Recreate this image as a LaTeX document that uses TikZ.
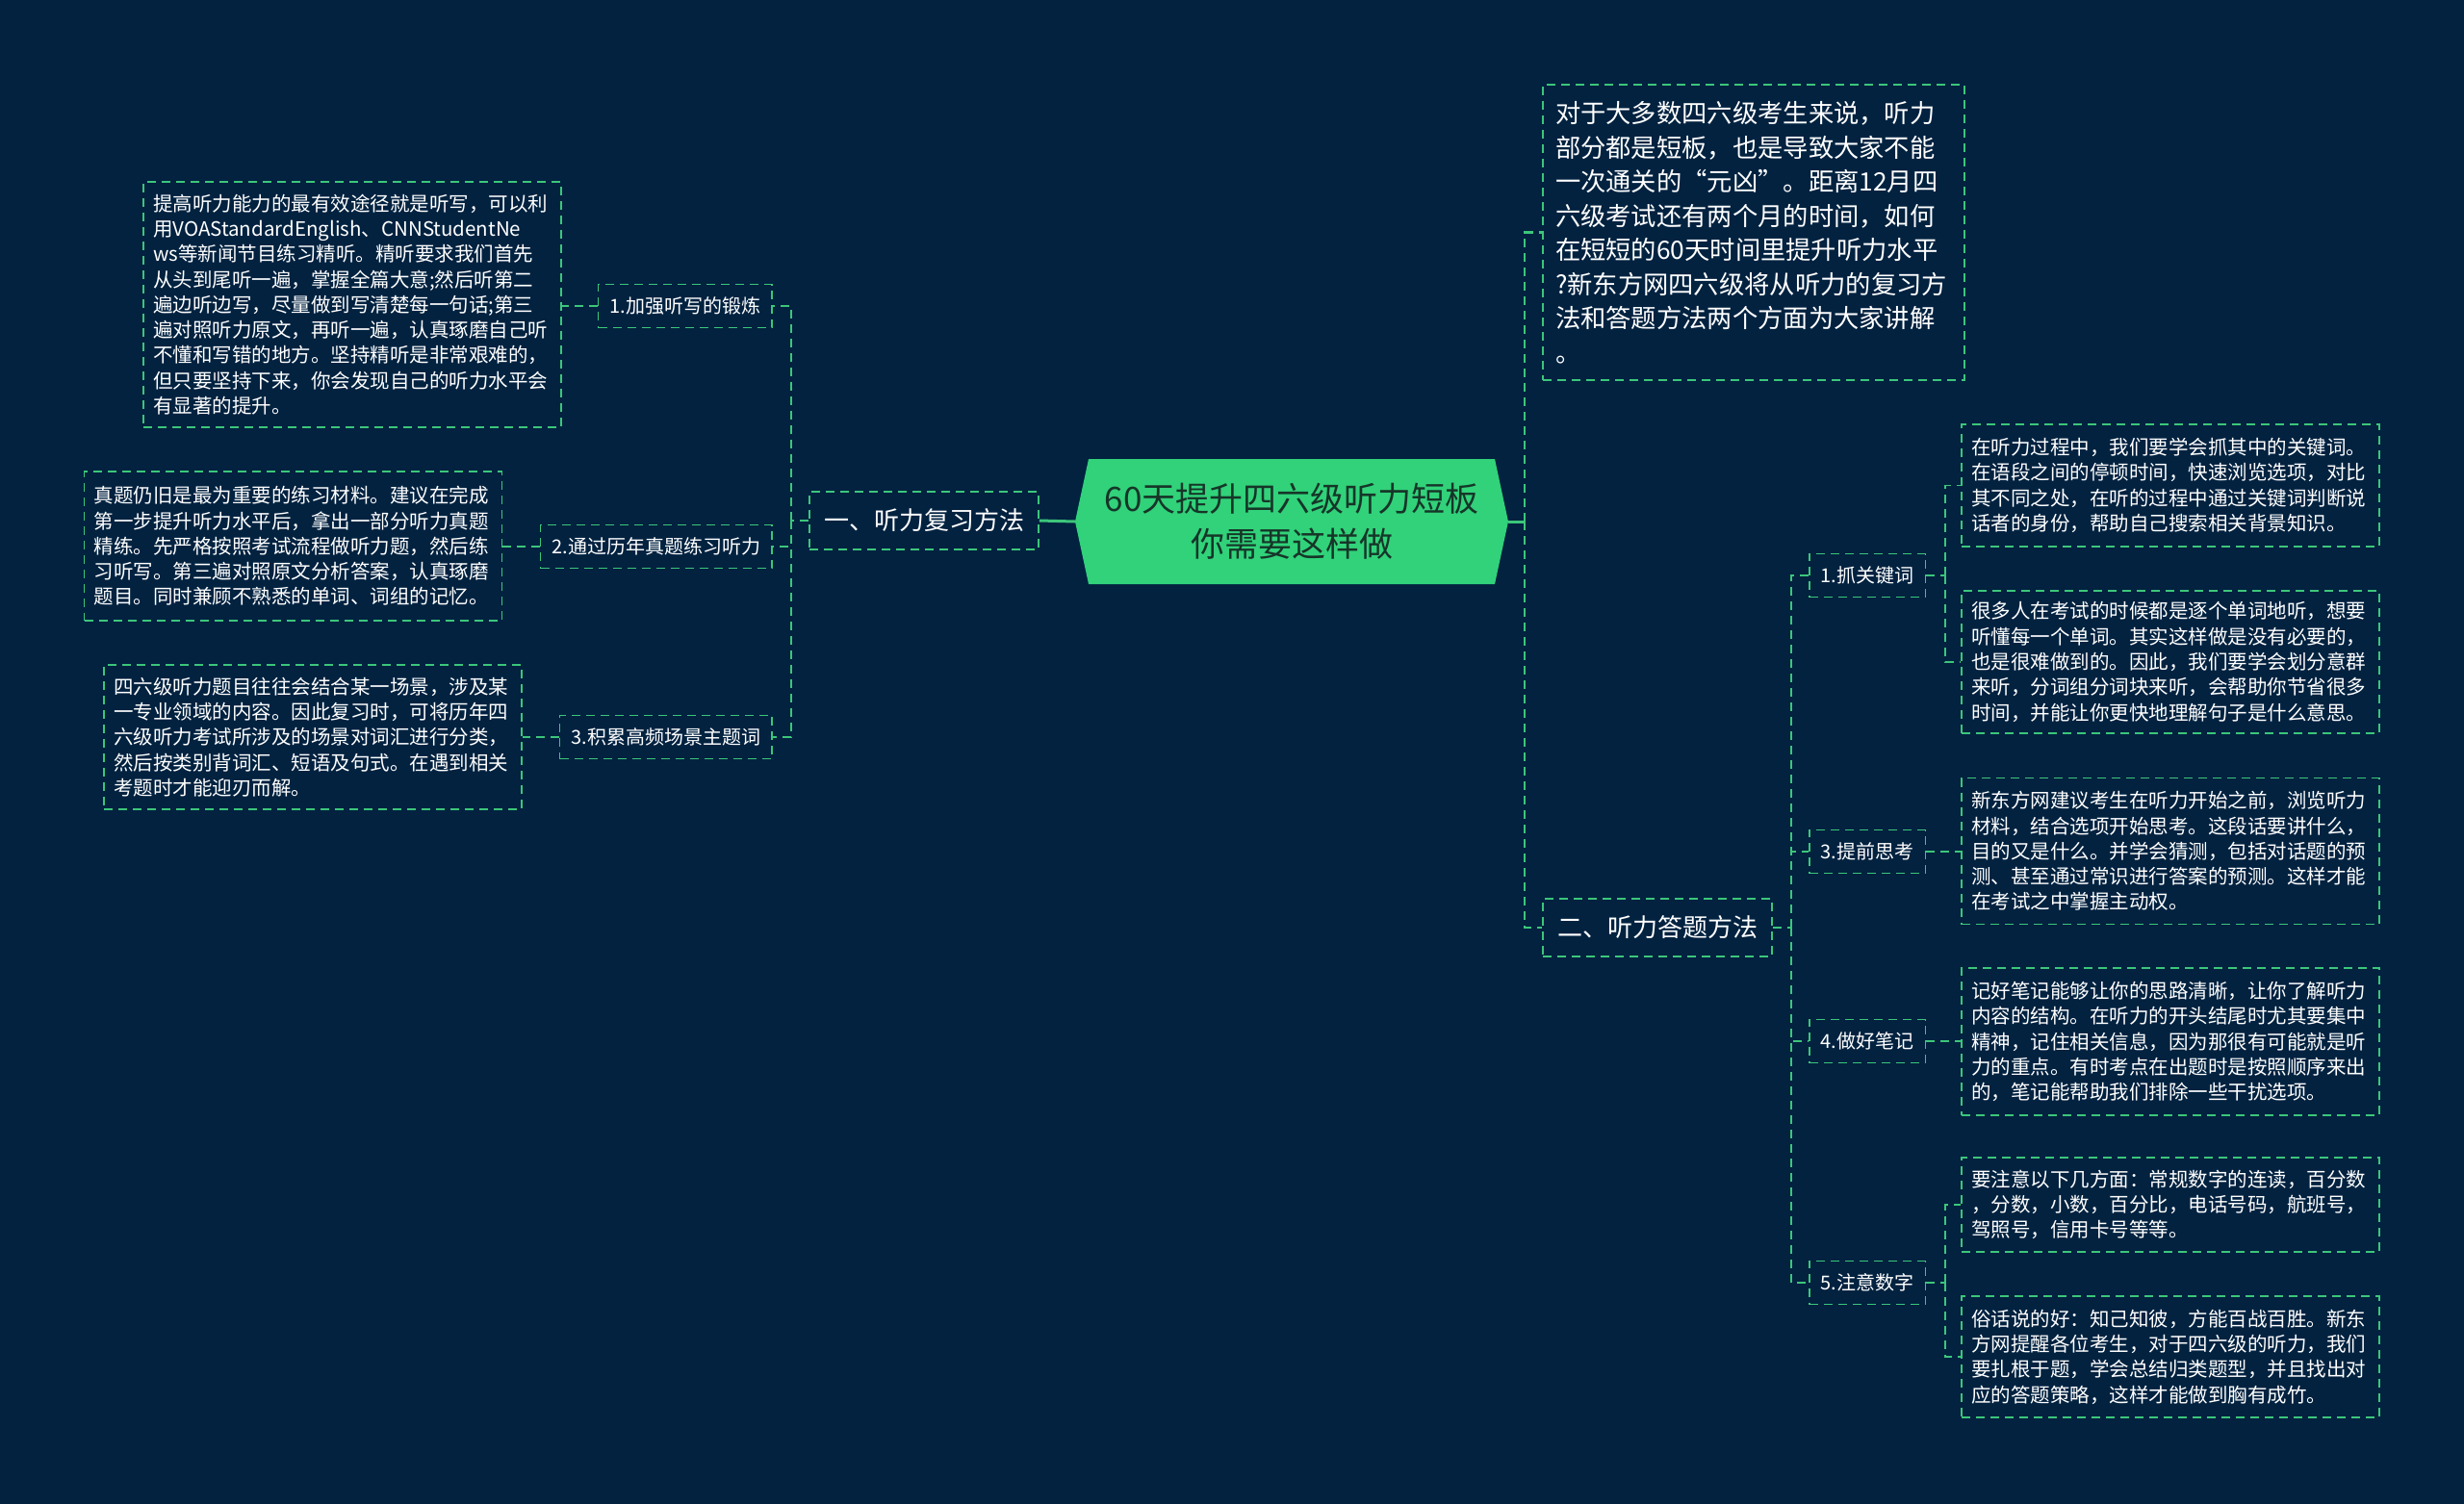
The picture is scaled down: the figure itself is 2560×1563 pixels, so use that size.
\documentclass[tikz,border=0pt]{standalone}
\usepackage{fontspec}
\setmainfont{Noto Sans CJK SC}
\definecolor{bg}{HTML}{022240}
\definecolor{lg}{HTML}{3CC67A}
\definecolor{rootg}{HTML}{31D27A}
\definecolor{roott}{HTML}{163528}
\tikzset{
  dsh/.style={dash pattern=on 9pt off 6pt},
  txtbox/.style={draw=lg, dsh, line width=1.6pt, text=white, align=left, inner xsep=10pt, inner ysep=0pt, text width=414pt, font=\fontsize{20.5}{26.3}\selectfont},
  subbox/.style={draw=lg, dsh, line width=1.6pt, text=white, inner xsep=12pt, inner ysep=0pt, minimum height=45pt, font=\fontsize{20}{24}\selectfont},
  brbox/.style={draw=lg, dsh, line width=1.6pt, text=white, inner xsep=15pt, inner ysep=0pt, minimum height=60pt, font=\fontsize{26}{30}\selectfont},
  conn/.style={draw=lg, dsh, line width=1.6pt},
  mainconn/.style={draw=lg, line width=3pt},
}
\begin{document}
\begin{tikzpicture}[x=1pt,y=-1pt]
\useasboundingbox (0,0) rectangle (2560,1563);
\fill[bg] (0,0) rectangle (2560,1563);
% root shape
\fill[rootg] (1117,542) -- (1131,477) -- (1553,477) -- (1567,542) -- (1553,607) -- (1131,607) -- cycle;
\node (root) at (1342,542) [minimum width=450pt, minimum height=130pt, inner sep=0pt, align=center, text=roott, font=\fontsize{35}{47}\selectfont] {60天提升四六级听力短板\\你需要这样做};

% left branch
\node[brbox] (L) at (960,541) {一、听力复习方法};
\node[subbox, anchor=east] (A1s) at (803,318) {1.加强听写的锻炼};
\node[subbox, anchor=east] (A2s) at (803,568) {2.通过历年真题练习听力};
\node[subbox, anchor=east] (A3s) at (803,766) {3.积累高频场景主题词};

\node[txtbox, minimum height=255pt] (A1) at (366,316.5) {提高听力能力的最有效途径就是听写，可以利\\用VOAStandardEnglish、CNNStudentNe\\ws等新闻节目练习精听。精听要求我们首先\\从头到尾听一遍，掌握全篇大意;然后听第二\\遍边听边写，尽量做到写清楚每一句话;第三\\遍对照听力原文，再听一遍，认真琢磨自己听\\不懂和写错的地方。坚持精听是非常艰难的，\\但只要坚持下来，你会发现自己的听力水平会\\有显著的提升。};
\node[txtbox, minimum height=155pt] (A2) at (304.5,567.5) {真题仍旧是最为重要的练习材料。建议在完成\\第一步提升听力水平后，拿出一部分听力真题\\精练。先严格按照考试流程做听力题，然后练\\习听写。第三遍对照原文分析答案，认真琢磨\\题目。同时兼顾不熟悉的单词、词组的记忆。};
\node[txtbox, minimum height=150pt] (A3) at (325,766) {四六级听力题目往往会结合某一场景，涉及某\\一专业领域的内容。因此复习时，可将历年四\\六级听力考试所涉及的场景对词汇进行分类，\\然后按类别背词汇、短语及句式。在遇到相关\\考题时才能迎刃而解。};

% right side
\node[draw=lg, dsh, line width=1.6pt, text=white, align=left, inner xsep=13pt, inner ysep=0pt, text width=412pt, minimum height=307pt, font=\fontsize{26.3}{35.5}\selectfont] (intro) at (1822,241.5) {对于大多数四六级考生来说，听力\\部分都是短板，也是导致大家不能\\一次通关的“元凶”。距离12月四\\六级考试还有两个月的时间，如何\\在短短的60天时间里提升听力水平\\?新东方网四六级将从听力的复习方\\法和答题方法两个方面为大家讲解\\。};

\node[brbox] (R) at (1722,964) {二、听力答题方法};
\node[subbox, anchor=west] (B1s) at (1879,598) {1.抓关键词};
\node[subbox, anchor=west] (B3s) at (1879,885) {3.提前思考};
\node[subbox, anchor=west] (B4s) at (1879,1082) {4.做好笔记};
\node[subbox, anchor=west] (B5s) at (1879,1333) {5.注意数字};

\node[txtbox, minimum height=127pt] (B1a) at (2255,504.5) {在听力过程中，我们要学会抓其中的关键词。\\在语段之间的停顿时间，快速浏览选项，对比\\其不同之处，在听的过程中通过关键词判断说\\话者的身份，帮助自己搜索相关背景知识。};
\node[txtbox, minimum height=148pt] (B1b) at (2255,688) {很多人在考试的时候都是逐个单词地听，想要\\听懂每一个单词。其实这样做是没有必要的，\\也是很难做到的。因此，我们要学会划分意群\\来听，分词组分词块来听，会帮助你节省很多\\时间，并能让你更快地理解句子是什么意思。};
\node[txtbox, minimum height=152pt] (B3) at (2255,884.5) {新东方网建议考生在听力开始之前，浏览听力\\材料，结合选项开始思考。这段话要讲什么，\\目的又是什么。并学会猜测，包括对话题的预\\测、甚至通过常识进行答案的预测。这样才能\\在考试之中掌握主动权。};
\node[txtbox, minimum height=153pt] (B4) at (2255,1082.5) {记好笔记能够让你的思路清晰，让你了解听力\\内容的结构。在听力的开头结尾时尤其要集中\\精神，记住相关信息，因为那很有可能就是听\\力的重点。有时考点在出题时是按照顺序来出\\的，笔记能帮助我们排除一些干扰选项。};
\node[txtbox, minimum height=98pt] (B5a) at (2255,1252) {要注意以下几方面：常规数字的连读，百分数\\，分数，小数，百分比，电话号码，航班号，\\驾照号，信用卡号等等。};
\node[txtbox, minimum height=126pt] (B5b) at (2255,1410) {俗话说的好：知己知彼，方能百战百胜。新东\\方网提醒各位考生，对于四六级的听力，我们\\要扎根于题，学会总结归类题型，并且找出对\\应的答题策略，这样才能做到胸有成竹。};

% connectors
\coordinate (lj) at (822,541);
\coordinate (rj) at (1584,542);
\coordinate (rj2) at (1861,964);
\coordinate (j1) at (2021,598);
\coordinate (j5) at (2021,1333);

\draw[mainconn] (root.west) -- (L.east);
\draw[mainconn] (root.east) -- (rj);
\draw[conn] (L.west) -- (lj);
\draw[conn] (lj) |- (A1s.east);
\draw[conn] (lj) |- (A2s.east);
\draw[conn] (lj) |- (A3s.east);
\draw[conn] (A1s.west) -- (A1s.west -| A1.east);
\draw[conn] (A2s.west) -- (A2s.west -| A2.east);
\draw[conn] (A3s.west) -- (A3s.west -| A3.east);

\draw[conn, line width=2.4pt] (rj) |- (intro.west);
\draw[conn, line width=2.4pt] (rj) |- (R.west);
\draw[conn] (R.east) -- (rj2);
\draw[conn] (rj2) |- (B1s.west);
\draw[conn] (rj2) |- (B3s.west);
\draw[conn] (rj2) |- (B4s.west);
\draw[conn] (rj2) |- (B5s.west);
\draw[conn] (B1s.east) -- (j1);
\draw[conn] (j1) |- (B1a.west);
\draw[conn] (j1) |- (B1b.west);
\draw[conn] (B3s.east) -- (B3s.east -| B3.west);
\draw[conn] (B4s.east) -- (B4s.east -| B4.west);
\draw[conn] (B5s.east) -- (j5);
\draw[conn] (j5) |- (B5a.west);
\draw[conn] (j5) |- (B5b.west);
\end{tikzpicture}
\end{document}
